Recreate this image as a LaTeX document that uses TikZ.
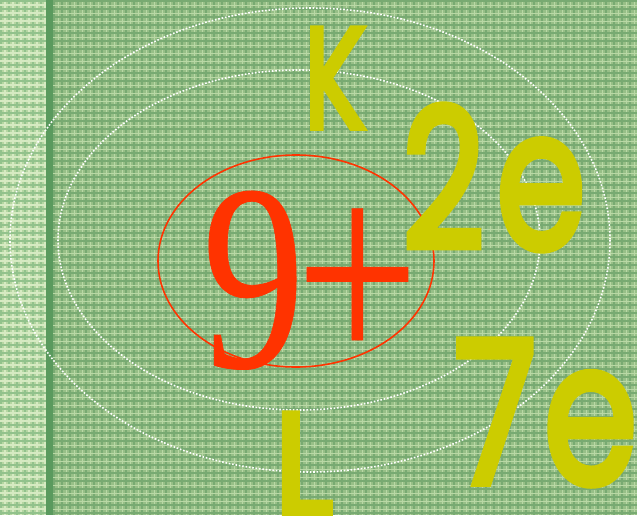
\documentclass[tikz,border=0pt]{standalone}
\usepackage{fontspec}
\usepackage{graphicx}
\newfontfamily\serifnum{Liberation Serif}[FakeBold=0.3]
\newfontfamily\comicf{Poppins}[FakeBold=4]
\definecolor{bgmain}{HTML}{97BF87}
\definecolor{bgdark}{HTML}{78AA72}
\definecolor{bglight}{HTML}{B9D8A5}
\definecolor{leftmain}{HTML}{B5D6A2}
\definecolor{leftdark}{HTML}{92C28C}
\definecolor{leftlight}{HTML}{D6EAC2}
\definecolor{barc}{HTML}{5A9A5E}
\definecolor{redc}{HTML}{FF3300}
\definecolor{yelc}{HTML}{CCCC00}
\tikzset{
  orbit/.style={draw=white, line width=1.6pt, dash pattern=on 1.6pt off 1.8pt},
  nucleus/.style={draw=redc, line width=1.6pt},
  yel/.style={anchor=base west, inner sep=0pt, text=yelc},
  nuc/.style={anchor=base west, inner sep=0pt, text=redc},
}
\newcommand{\ytext}[3]{\scalebox{#1}[1]{\fontsize{#2}{#2}\comicf #3}}
\begin{document}
\begin{tikzpicture}[x=1pt,y=-1pt]
\useasboundingbox (0,0) rectangle (637,515);
% background
\fill[bgmain] (0,0) rectangle (637,515);
\fill[leftmain] (0,0) rectangle (46,515);
\begin{scope}
  \clip (53,0) rectangle (637,515);
  \foreach \i in {0,...,73} {
    \draw[bglight, line width=1pt] (53+\i*8+5,0) -- (53+\i*8+5,515);
    \draw[bgdark, line width=1.4pt] (53+\i*8+1,0) -- (53+\i*8+1,515);
  }
  \foreach \j in {0,...,65} {
    \draw[bglight, line width=1pt] (53,\j*8+5) -- (637,\j*8+5);
    \draw[bgdark, line width=1.2pt] (53,\j*8+1) -- (637,\j*8+1);
  }
\end{scope}
\begin{scope}
  \clip (0,0) rectangle (46,515);
  \foreach \i in {0,...,6} {
    \draw[leftlight, line width=1.4pt] (\i*8+5,0) -- (\i*8+5,515);
    \draw[leftdark, line width=1.4pt] (\i*8+1,0) -- (\i*8+1,515);
  }
  \foreach \j in {0,...,65} {
    \draw[leftlight, line width=1.4pt] (0,\j*8+5) -- (46,\j*8+5);
    \draw[leftdark, line width=1.2pt] (0,\j*8+1) -- (46,\j*8+1);
  }
\end{scope}
\fill[barc] (46,0) rectangle (53,515);
% orbits
\draw[orbit] (310,240) ellipse [x radius=300, y radius=232];
\draw[orbit] (299,240) ellipse [x radius=241, y radius=170];
% nucleus
\draw[nucleus] (296,261) ellipse [x radius=138, y radius=106];
\node[nuc] (nine) at (202,367) {\scalebox{0.77}[1]{\fontsize{266}{266}\serifnum 9\kern-11pt\raisebox{-1pt}{\scalebox{1.06}{+}}}};
% shells and electrons
\node[yel] (k) at (304,128) {\ytext{0.72}{143}{K}};
\node[yel] (two) at (402,248) {\ytext{0.74}{194}{2\kern16pt e}};
\node[yel] (seven) at (454,483) {\ytext{0.76}{198}{7\kern10pt e}};
\node[yel] (l) at (274,513) {\ytext{0.95}{143}{L}};
\end{tikzpicture}
\end{document}
